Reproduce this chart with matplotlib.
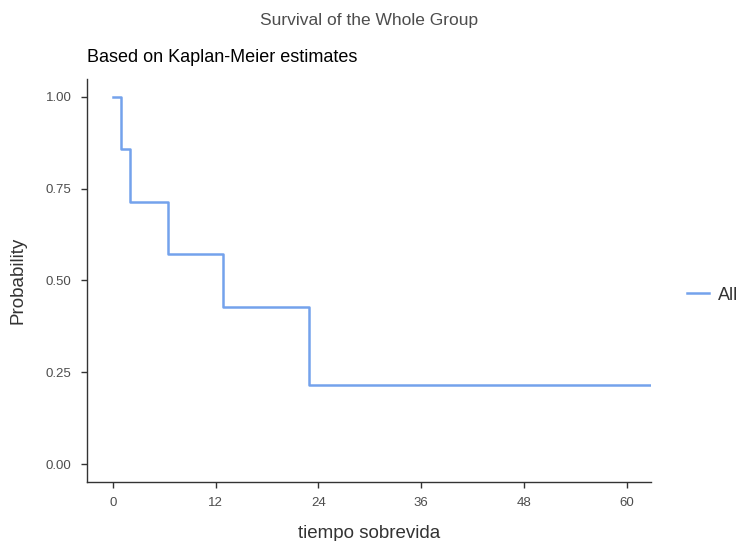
import numpy as np
import matplotlib
matplotlib.use("Agg")
import matplotlib.pyplot as plt

plt.rcParams['font.family'] = ['Liberation Sans', 'DejaVu Sans']

# Kaplan-Meier estimates
tiempos = [0.0, 1.0, 2.0, 6.5, 12.9, 22.9, 62.8]
supervivencia = [1.0, 0.857, 0.714, 0.571, 0.429, 0.214, 0.214]
x_ticks = [0, 12, 24, 36, 48, 60]
y_ticks = [0.00, 0.25, 0.50, 0.75, 1.00]

color_linea = '#74A2EC'
gris = '#4D4D4D'

fig = plt.figure(figsize=(7.41, 5.41), dpi=100)
ax = fig.add_axes([87 / 741, 59 / 541, (651 - 87) / 741, (482 - 79) / 541])

ax.step(tiempos, supervivencia, where='post', color=color_linea, lw=1.8, label='All')

ax.set_xlim(-3.0, 62.8)
ax.set_ylim(-0.049, 1.049)
ax.set_xticks(x_ticks)
ax.set_yticks(y_ticks)
ax.set_yticklabels([f"{v:.2f}" for v in y_ticks])

for lado in ['top', 'right']:
    ax.spines[lado].set_visible(False)
for lado in ['left', 'bottom']:
    ax.spines[lado].set_color('#333333')
    ax.spines[lado].set_linewidth(1.0)
ax.tick_params(axis='both', colors='#333333', labelcolor=gris, labelsize=9.5,
               length=4, width=1.0, direction='out', pad=7)

ax.set_xlabel('tiempo sobrevida', fontsize=13.5, color='#333333', labelpad=11)
ax.set_ylabel('Probability', fontsize=13.5, color='#333333', labelpad=14)

fig.text(369 / 741, 1 - 20 / 541, 'Survival of the Whole Group', ha='center', va='center',
         fontsize=12.5, color=gris)
fig.text(87 / 741, 1 - 57 / 541, 'Based on Kaplan-Meier estimates', ha='left', va='center',
         fontsize=13, color='black')

ax.legend(loc='center left', bbox_to_anchor=(1.035, 0.464), frameon=False,
          fontsize=13, handlelength=1.2, handletextpad=0.5, labelcolor='#333333')

fig.savefig('out.png', dpi=100, facecolor='white')
